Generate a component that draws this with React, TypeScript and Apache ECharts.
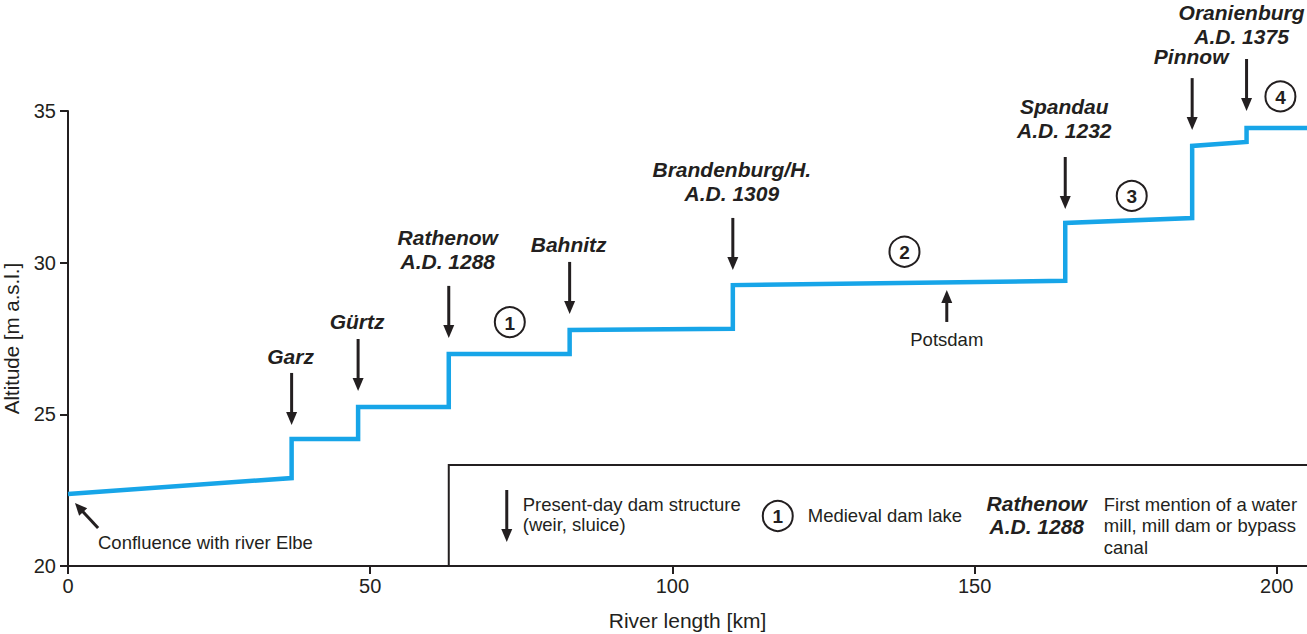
import React, { useEffect, useRef } from "react";
import * as echarts from "echarts";

// River profile (km from confluence, altitude m a.s.l.)
const riverKm = [0, 37, 37, 48, 48, 63, 63, 83, 83, 110, 110, 165, 165, 186, 186, 195, 195, 205];
const altitude = [22.37, 22.9, 24.19, 24.19, 25.24, 25.24, 26.99, 26.99, 27.78, 27.82, 29.26, 29.4, 31.31, 31.47, 33.85, 33.98, 34.44, 34.44];

// Present-day dam structures (arrow tip position and label)
const damKm = [37, 48, 63, 83, 110, 165, 186, 195];
const damTipAlt = [24.65, 25.77, 27.52, 28.31, 29.76, 31.77, 34.37, 35.0];
const damLabels = ["Garz", "Gürtz", "Rathenow\nA.D. 1288", "Bahnitz", "Brandenburg/H.\nA.D. 1309", "Spandau\nA.D. 1232", "Pinnow", "Oranienburg\nA.D. 1375"];
const damLabelShift = [-1, -1, -1, -1, -1, -1, -1, -5];
const damLabelLift = [-1, 0, 7, 0, 7, 9, 5, 6];

// Medieval dam lakes (circled numbers)
const lakeNumbers = ["1", "2", "3", "4"];
const lakeKm = [73.1, 138.4, 176.0, 200.6];
const lakeAlt = [28.04, 30.36, 32.2, 35.48];

const xTicks = [0, 50, 100, 150, 200];
const yTicks = [20, 25, 30, 35];

const INK = "#231f20";
const FONT = "'Liberation Sans', Arial, Helvetica, sans-serif";

export default function App() {
  const ref = useRef<HTMLDivElement>(null);
  useEffect(() => {
    const chart = echarts.init(ref.current!, null, { renderer: "svg" });
    const data = riverKm.map((k, i) => [k, altitude[i]]);
    chart.setOption({
      animation: false,
      backgroundColor: "#ffffff",
      textStyle: { fontFamily: FONT },
      grid: { left: 68, right: 0, top: 111, bottom: 68, containLabel: false, outerBoundsMode: "none" },
      xAxis: {
        type: "value",
        min: xTicks[0],
        max: 205,
        interval: 50,
        name: "River length [km]",
        nameLocation: "middle",
        nameGap: 44,
        nameTextStyle: { fontSize: 21, color: INK, fontFamily: FONT },
        axisLine: { show: true, lineStyle: { color: INK, width: 2 } },
        axisTick: { show: true, length: 8, lineStyle: { color: INK, width: 2 } },
        axisLabel: { fontSize: 20, color: INK, margin: 10, fontFamily: FONT, showMaxLabel: false, formatter: (v: number) => (xTicks.includes(v) ? String(v) : "") },
        splitLine: { show: false },
      },
      yAxis: {
        type: "value",
        min: yTicks[0],
        max: yTicks[yTicks.length - 1],
        interval: 5,
        name: "Altitude [m a.s.l.]",
        nameLocation: "middle",
        nameGap: 46,
        nameRotate: 90,
        nameTextStyle: { fontSize: 20.5, color: INK, fontFamily: FONT },
        axisLine: { show: true, lineStyle: { color: INK, width: 2 } },
        axisTick: { show: true, length: 8, lineStyle: { color: INK, width: 2 } },
        axisLabel: { fontSize: 20, color: INK, margin: 12, fontFamily: FONT },
        splitLine: { show: false },
      },
      series: [
        {
          type: "line",
          data,
          showSymbol: false,
          symbol: "none",
          lineStyle: { color: "#17a5e8", width: 4.5, join: "miter" },
          z: 3,
        },
      ],
    });

    const px = (x: number, y: number) => chart.convertToPixel({ gridIndex: 0 }, [x, y]) as number[];
    const g: any[] = [];

    const arrowDown = (x: number, tip: number, len: number) => {
      g.push({ type: "line", shape: { x1: x, y1: tip - len, x2: x, y2: tip - 10 }, style: { stroke: INK, lineWidth: 3 }, z: 10 });
      g.push({ type: "polygon", shape: { points: [[x - 5.5, tip - 13], [x + 5.5, tip - 13], [x, tip]] }, style: { fill: INK }, z: 10 });
    };
    const circleNum = (x: number, y: number, t: string) => {
      g.push({ type: "circle", shape: { cx: x, cy: y, r: 15 }, style: { fill: "#fff", stroke: INK, lineWidth: 2 }, z: 10 });
      g.push({ type: "text", x, y: y + 1, style: { text: t, fill: INK, font: `bold 19px ${FONT}`, align: "center", verticalAlign: "middle" }, z: 11 });
    };

    // dam arrows and labels
    damKm.forEach((k, i) => {
      const [x, tip] = px(k, damTipAlt[i]);
      arrowDown(x, tip, 52);
      g.push({
        type: "text",
        x: x + damLabelShift[i],
        y: tip - 57 - damLabelLift[i],
        style: { text: damLabels[i], fill: INK, font: `italic bold 21px ${FONT}`, align: "center", verticalAlign: "bottom", lineHeight: 24 },
        z: 10,
      });
    });

    // lakes
    lakeKm.forEach((k, i) => {
      const [x, y] = px(k, lakeAlt[i]);
      circleNum(x, y, lakeNumbers[i]);
    });

    // Potsdam (up arrow)
    {
      const [x, tip] = px(145.4, 29.1);
      g.push({ type: "polygon", shape: { points: [[x - 5.5, tip + 13], [x + 5.5, tip + 13], [x, tip]] }, style: { fill: INK }, z: 10 });
      g.push({ type: "line", shape: { x1: x, y1: tip + 10, x2: x, y2: tip + 32 }, style: { stroke: INK, lineWidth: 3 }, z: 10 });
      g.push({ type: "text", x, y: tip + 50, style: { text: "Potsdam", fill: INK, font: `18.5px ${FONT}`, align: "center", verticalAlign: "middle" }, z: 10 });
    }

    // Confluence (diagonal arrow)
    {
      const [x0, y0] = px(0, 22.37);
      const tx = x0 + 7, ty = y0 + 9;
      const ang = Math.atan2(27, 25);
      const ex = tx + 34 * Math.cos(ang), ey = ty + 34 * Math.sin(ang);
      const bx = tx + 12 * Math.cos(ang), by = ty + 12 * Math.sin(ang);
      const nx = -Math.sin(ang) * 5.5, ny = Math.cos(ang) * 5.5;
      g.push({ type: "line", shape: { x1: bx - 2 * Math.cos(ang), y1: by - 2 * Math.sin(ang), x2: ex, y2: ey }, style: { stroke: INK, lineWidth: 3 }, z: 10 });
      g.push({ type: "polygon", shape: { points: [[tx, ty], [bx + nx, by + ny], [bx - nx, by - ny]] }, style: { fill: INK }, z: 10 });
      g.push({ type: "text", x: x0 + 30, y: y0 + 48, style: { text: "Confluence with river Elbe", fill: INK, font: `18.5px ${FONT}`, align: "left", verticalAlign: "middle" }, z: 10 });
    }

    // Legend box
    {
      const [lx, ly] = px(63, 23.33);
      const [, by] = px(63, 20);
      g.push({ type: "rect", shape: { x: lx, y: ly, width: 1307 - lx + 10, height: by - ly }, style: { fill: "#fff", stroke: INK, lineWidth: 2 }, z: 5 });
      const ax = lx + 58;
      g.push({ type: "line", shape: { x1: ax, y1: ly + 25, x2: ax, y2: ly + 67 }, style: { stroke: INK, lineWidth: 3 }, z: 10 });
      g.push({ type: "polygon", shape: { points: [[ax - 5.5, ly + 64], [ax + 5.5, ly + 64], [ax, ly + 77]] }, style: { fill: INK }, z: 10 });
      g.push({ type: "text", x: lx + 74, y: ly + 49.5, style: { text: "Present-day dam structure\n(weir, sluice)", fill: INK, font: `18.5px ${FONT}`, align: "left", verticalAlign: "middle", lineHeight: 20.5 }, z: 10 });
      circleNum(lx + 329, ly + 51, "1");
      g.push({ type: "text", x: lx + 359, y: ly + 51, style: { text: "Medieval dam lake", fill: INK, font: `18.5px ${FONT}`, align: "left", verticalAlign: "middle" }, z: 10 });
      g.push({ type: "text", x: lx + 588, y: ly + 50, style: { text: "Rathenow\nA.D. 1288", fill: INK, font: `italic bold 21px ${FONT}`, align: "center", verticalAlign: "middle", lineHeight: 23 }, z: 10 });
      g.push({ type: "text", x: lx + 655, y: ly + 61, style: { text: "First mention of a water\nmill, mill dam or bypass\ncanal", fill: INK, font: `18.5px ${FONT}`, align: "left", verticalAlign: "middle", lineHeight: 21.5 }, z: 10 });
    }

    chart.setOption({ graphic: { elements: g } });
    return () => chart.dispose();
  }, []);
  return <div ref={ref} style={{ position: "fixed", left: 0, top: 0, width: 1307, height: 634 }} />;
}
